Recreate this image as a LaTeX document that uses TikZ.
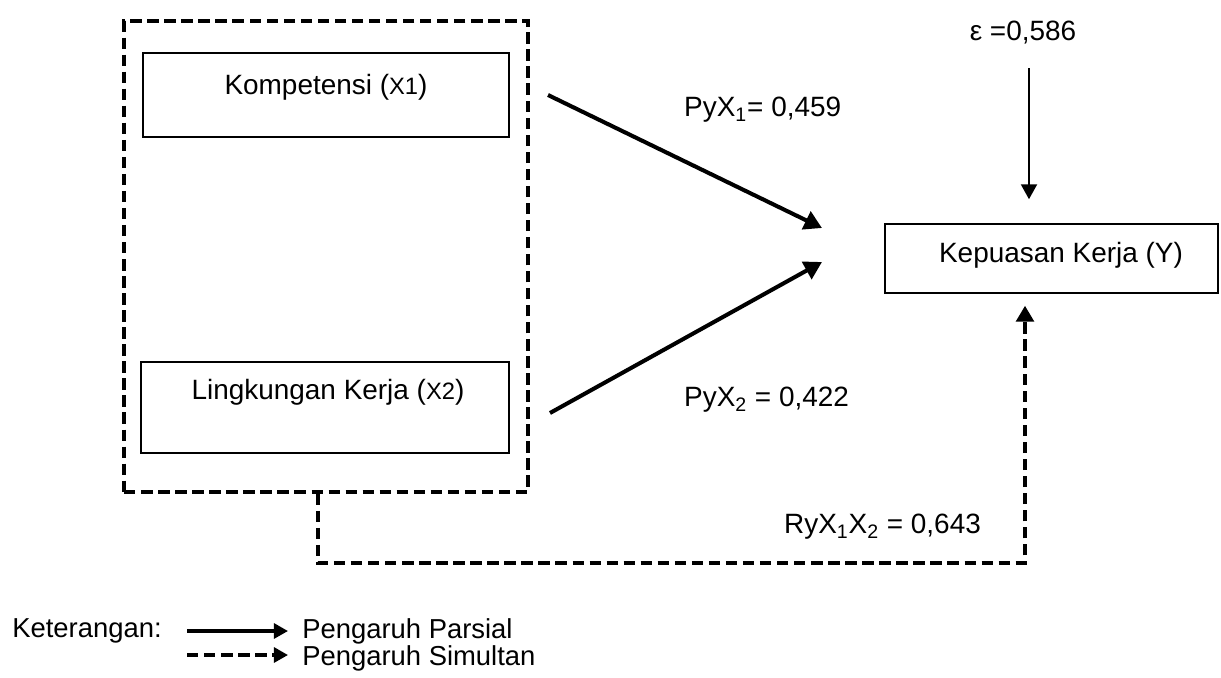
\documentclass[tikz,border=0pt]{standalone}
\usepackage{fontspec}
\setmainfont{Liberation Sans}
\usetikzlibrary{arrows.meta,positioning}

\begin{document}
\begin{tikzpicture}[x=0.02cm, y=-0.02cm,
  font=\fontsize{15.9}{19}\selectfont,
  kotak/.style={draw, line width=0.85pt, inner sep=0pt},
  blokgaris/.style={draw, line width=2pt, dash pattern=on 6.5pt off 3.2pt, inner sep=0pt},
  parsial/.style={line width=2.3pt, -{Triangle[length=10pt,width=11pt]}},
  simultan/.style={line width=2pt, dash pattern=on 6.5pt off 3.2pt, -{Triangle[length=9pt,width=10pt]}},
  legteks/.style={anchor=west, inner sep=0pt, font=\fontsize{15.6}{17}\selectfont}]
			%%%%% START %%%%%
			\useasboundingbox (0,0) rectangle (1221,677);
			
			\node[blokgaris, minimum width=8.08cm, minimum height=9.42cm] (blok) at (326,256.5) {};
			
			\node[kotak, minimum width=7.32cm, minimum height=1.68cm] (kompetensi) at (326,95) {};
			\node (kompetensi-teks) at (326,87) {Kompetensi ({\fontsize{13.5}{16}\selectfont X1})};
			
			\node[kotak, minimum width=7.36cm, minimum height=1.82cm] (lingkungan) at (325,407.5) {};
			\node (lingkungan-teks) at (328,392) {Lingkungan Kerja ({\fontsize{13.5}{16}\selectfont X2})};
			
			\node[kotak, minimum width=6.66cm, minimum height=1.38cm] (kepuasan) at (1051.5,258.5) {};
			\node (kepuasan-teks) at (1061,255) {Kepuasan Kerja (Y)};
			
			\node (eps) at (1023,33) {ε =0,586};
			\coordinate (eps-bawah) at (1029,68);
			\draw[line width=1.4pt, -{Triangle[length=8.5pt,width=9pt]}, shorten >=0.48cm] (eps-bawah) -- (eps-bawah |- kepuasan.north);
			
			\coordinate (x1-awal) at (548,95);
			\coordinate (x1-akhir) at (822,228);
			\draw[parsial] (x1-awal) -- (x1-akhir);
			\node[anchor=west] (py1) at (678,110) {PyX\textsubscript{1}= 0,459};
			
			\coordinate (x2-awal) at (550,413);
			\coordinate (x2-akhir) at (822,262);
			\draw[parsial] (x2-awal) -- (x2-akhir);
			\node[anchor=west] (py2) at (678,400) {PyX\textsubscript{2} = 0,422};
			
			\coordinate (belok) at (318,563);
			\draw[simultan, shorten >=0.24cm] (blok.south -| belok) -- (belok) -| ([xshift=-0.53cm]kepuasan.south);
			\node[anchor=west] (ry) at (778,527) {RyX\textsubscript{1}X\textsubscript{2} = 0,643};
			
			% keterangan
			\node[legteks] (ket) at (12,631) {Keterangan:};
			\coordinate (leg1-awal) at (187,631);
			\coordinate (leg1-akhir) at (288,631);
			\draw[line width=1.8pt, -{Triangle[length=8pt,width=8.5pt]}] (leg1-awal) -- (leg1-akhir);
			\node[legteks] (leg1) at (302,631) {Pengaruh Parsial};
			\coordinate (leg2-awal) at (187,655);
			\coordinate (leg2-akhir) at (288,655);
			\draw[simultan, line width=1.8pt, -{Triangle[length=8pt,width=8.5pt]}] (leg2-awal) -- (leg2-akhir);
			\node[legteks] (leg2) at (302,658) {Pengaruh Simultan};
			%%%%% END %%%%%
\end{tikzpicture}
\end{document}
